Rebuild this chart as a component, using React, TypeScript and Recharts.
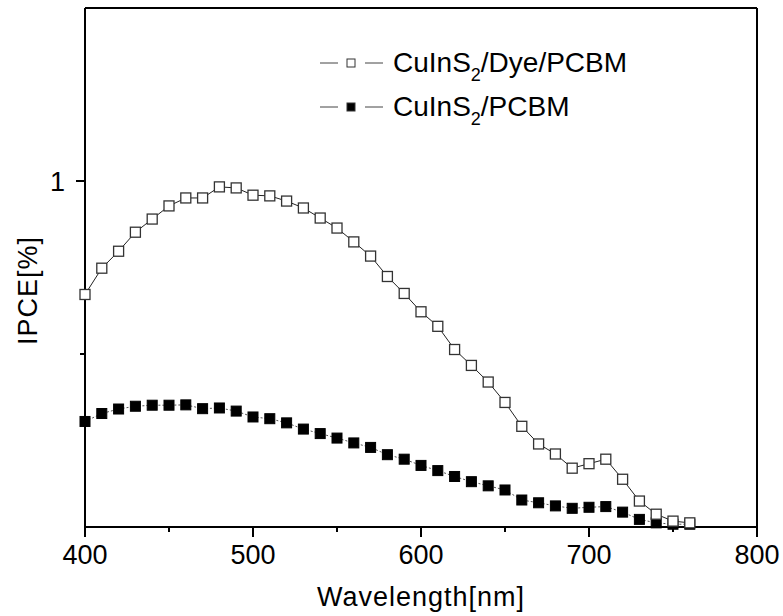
import React from "react";
import { LineChart, Line, XAxis, YAxis, Legend, ReferenceLine } from "recharts";

// wavelength (nm)
const wavelengths = [
  400, 410, 420, 430, 440, 450, 460, 470, 480, 490, 500, 510, 520, 530, 540, 550, 560, 570, 580,
  590, 600, 610, 620, 630, 640, 650, 660, 670, 680, 690, 700, 710, 720, 730, 740, 750, 760,
];

// IPCE [%]
const dyeValues = [
  0.672, 0.748, 0.797, 0.852, 0.89, 0.928, 0.951, 0.951, 0.983, 0.98, 0.959, 0.957, 0.942, 0.922,
  0.893, 0.864, 0.824, 0.783, 0.724, 0.675, 0.622, 0.58, 0.513, 0.467, 0.419, 0.36, 0.291, 0.24,
  0.211, 0.17, 0.183, 0.196, 0.138, 0.075, 0.037, 0.017, 0.012,
];
const pcbmValues = [
  0.305, 0.328, 0.341, 0.349, 0.352, 0.352, 0.353, 0.342, 0.344, 0.335, 0.318, 0.313, 0.301, 0.283,
  0.27, 0.257, 0.243, 0.23, 0.209, 0.196, 0.178, 0.163, 0.146, 0.131, 0.119, 0.107, 0.078, 0.07,
  0.061, 0.054, 0.057, 0.059, 0.043, 0.022, 0.012, 0.008, 0.008,
];

const xTicks = [400, 450, 500, 550, 600, 650, 700, 750, 800];
const xLabelTicks = [400, 500, 600, 700, 800];
const yTicks = [0.5, 1];
const yLabelTicks = [1];

const legendItems = [
  { base: "CuInS", rest: "/Dye/PCBM", filled: false },
  { base: "CuInS", rest: "/PCBM", filled: true },
];

const data = wavelengths.map((w, i) => ({ w, dye: dyeValues[i], pcbm: pcbmValues[i] }));

const FONT = "'Liberation Sans', Arial, sans-serif";

const XTick = (props: any) => {
  const { x, y, payload } = props;
  const major = xLabelTicks.includes(payload.value);
  return (
    <g>
      <line x1={x} y1={y} x2={x} y2={y + (major ? 10 : 5)} stroke="#000" strokeWidth={2} />
      {major && (
        <text x={x} y={y + 37} textAnchor="middle" fontSize={27} fontFamily={FONT} fill="#000">
          {payload.value}
        </text>
      )}
    </g>
  );
};

const YTick = (props: any) => {
  const { x, y, payload } = props;
  const major = yLabelTicks.includes(payload.value);
  return (
    <g>
      <line x1={x} y1={y} x2={x - (major ? 9 : 5)} y2={y} stroke="#000" strokeWidth={2} />
      {major && (
        <text x={x - 20} y={y} dy="0.36em" textAnchor="end" fontSize={27} fontFamily={FONT} fill="#000">
          {payload.value}
        </text>
      )}
    </g>
  );
};

const openSquare = (p: any) => (
  <rect key={`o${p.index}`} x={p.cx - 5} y={p.cy - 5} width={10} height={10} fill="#fff" stroke="#333" strokeWidth={1.3} />
);

const filledSquare = (p: any) => (
  <rect key={`f${p.index}`} x={p.cx - 5} y={p.cy - 5} width={10} height={10} fill="#000" stroke="#000" strokeWidth={1} />
);

const renderLegend = () => (
  <div style={{ fontFamily: FONT, fontSize: 28, color: "#000" }}>
    {legendItems.map((it) => (
      <div key={it.rest} style={{ display: "flex", alignItems: "center", height: 44, lineHeight: 1 }}>
        <svg width={75} height={20} style={{ flex: "none" }}>
          <line x1={2} y1={10} x2={20} y2={10} stroke="#444" strokeWidth={1} />
          <rect x={29} y={6} width={8} height={8} fill={it.filled ? "#000" : "#fff"} stroke="#333" strokeWidth={1} />
          <line x1={47} y1={10} x2={65} y2={10} stroke="#444" strokeWidth={1} />
        </svg>
        <span style={{ whiteSpace: "nowrap" }}>
          {it.base}
          <span style={{ fontSize: 18, position: "relative", top: 9 }}>2</span>
          {it.rest}
        </span>
      </div>
    ))}
  </div>
);

export default function App() {
  return (
    <div style={{ position: "absolute", left: 0, top: 0, width: 783, height: 616, background: "#fff" }}>
      <LineChart width={783} height={616} data={data} margin={{ top: 8, right: 26, bottom: 0, left: 0 }}>
        <XAxis
          dataKey="w"
          type="number"
          domain={[400, 800]}
          ticks={xTicks}
          interval={0}
          height={89}
          tickSize={0}
          tickMargin={0}
          tickLine={false}
          axisLine={{ stroke: "#000", strokeWidth: 2 }}
          tick={<XTick />}
          label={(lp: any) => {
            const vb = lp.viewBox;
            return (
              <text
                x={vb.x + vb.width / 2}
                y={vb.y + 79}
                textAnchor="middle"
                fontSize={27}
                fontFamily={FONT}
                letterSpacing={1}
                fill="#000"
              >
                Wavelength[nm]
              </text>
            );
          }}
        />
        <YAxis
          type="number"
          domain={[0, 1.5]}
          ticks={yTicks}
          interval={0}
          width={85}
          tickSize={0}
          tickMargin={0}
          tickLine={false}
          axisLine={{ stroke: "#000", strokeWidth: 2 }}
          tick={<YTick />}
          label={(lp: any) => {
            const vb = lp.viewBox;
            const cx = vb.x + 27;
            const cy = vb.y + vb.height / 2 + 23;
            return (
              <text
                x={cx}
                y={cy}
                dy="0.36em"
                transform={`rotate(-90, ${cx}, ${cy})`}
                textAnchor="middle"
                fontSize={27}
                fontFamily={FONT}
                letterSpacing={1}
                fill="#000"
              >
                IPCE[%]
              </text>
            );
          }}
        />
        <ReferenceLine y={1.5} stroke="#000" strokeWidth={2} />
        <ReferenceLine x={800} stroke="#000" strokeWidth={2} />
        <Line
          dataKey="pcbm"
          type="linear"
          stroke="#555"
          strokeWidth={1}
          strokeDasharray="2 2"
          dot={filledSquare}
          activeDot={false}
          isAnimationActive={false}
        />
        <Line
          dataKey="dye"
          type="linear"
          stroke="#222"
          strokeWidth={1}
          dot={openSquare}
          activeDot={false}
          isAnimationActive={false}
        />
        <Legend
          layout="vertical"
          align="center"
          verticalAlign="middle"
          wrapperStyle={{ top: 41, left: 318, width: "auto" }}
          content={renderLegend}
        />
      </LineChart>
    </div>
  );
}
